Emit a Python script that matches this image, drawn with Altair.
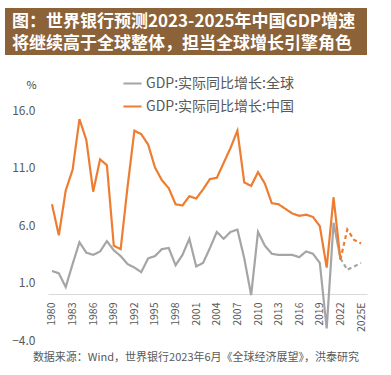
import altair as alt
import pandas as pd

years = list(range(1980, 2026))
world = [2.0, 1.8, 0.6, 2.6, 4.5, 3.6, 3.4, 3.7, 4.6, 3.8,
         3.3, 2.6, 2.3, 1.9, 3.1, 3.3, 3.9, 4.0, 2.5, 3.4,
         4.8, 2.4, 2.7, 4.0, 5.4, 4.8, 5.4, 5.6, 3.1, -0.1,
         5.4, 4.2, 3.5, 3.4, 3.4, 3.4, 3.2, 3.7, 3.5, 2.7,
         -3.0, 6.2, 3.1, 2.1, 2.4, 2.7]
china = [7.8, 5.1, 9.0, 10.8, 15.2, 13.4, 8.9, 11.7, 11.2, 4.2,
         3.9, 9.3, 14.2, 13.9, 13.0, 11.0, 9.9, 9.2, 7.8, 7.7,
         8.5, 8.3, 9.1, 10.0, 10.1, 11.4, 12.7, 14.2, 9.7, 9.4,
         10.6, 9.6, 7.9, 7.8, 7.4, 7.0, 6.8, 6.9, 6.7, 5.9,
         2.3, 8.4, 3.0, 5.6, 4.7, 4.4]
series_names = ["GDP:实际同比增长:全球", "GDP:实际同比增长:中国"]
series_colors = ["#A5A5A5", "#ED7D31"]
last_actual = 2022
y_ticks = [-4, 1, 6, 11, 16]
x_ticks = list(range(1980, 2026, 3))
title_lines = ["图：世界银行预测2023-2025年中国GDP增速", "将继续高于全球整体，担当全球增长引擎角色"]
source_text = "数据来源：Wind，世界银行2023年6月《全球经济展望》，洪泰研究"

FONT = "Noto Sans CJK SC"

rows = []
for name, vals in zip(series_names, [world, china]):
    for yr, v in zip(years, vals):
        if yr <= last_actual:
            rows.append({"year": yr, "value": v, "series": name, "seg": "实际"})
        if yr >= last_actual:
            rows.append({"year": yr, "value": v, "series": name, "seg": "预测"})
df = pd.DataFrame(rows)

W, H = 319, 230
zero_offset = -H * 4 / 20

lines = alt.Chart(df).mark_line(strokeWidth=2.2).encode(
    x=alt.X("year:Q",
            scale=alt.Scale(domain=[1979.42, 2025.87], nice=False, zero=False),
            axis=alt.Axis(values=x_ticks, labelAngle=-90, ticks=False, grid=False,
                          domainColor="#D9D9D9", domainWidth=1, offset=zero_offset,
                          labelFontSize=10.5, labelColor="#595959", labelFont=FONT,
                          labelPadding=8, title=None,
                          labelExpr="datum.value == 2025 ? '2025E' : toString(datum.value)")),
    y=alt.Y("value:Q",
            scale=alt.Scale(domain=[-4, 16], nice=False, zero=False),
            axis=alt.Axis(values=y_ticks, format=".1f", grid=False, domain=False, ticks=False,
                          labelFontSize=12, labelColor="#595959", labelFont=FONT, labelPadding=13,
                          title="%", titleAngle=0, titleX=-17, titleY=-20, titleFontSize=11,
                          titleFontWeight="normal", titleColor="#404040", titleFont=FONT,
                          titleAlign="center")),
    color=alt.Color("series:N",
                    scale=alt.Scale(domain=series_names, range=series_colors),
                    legend=alt.Legend(orient="none", legendX=74, legendY=-37, direction="vertical",
                                      title=None, symbolType="stroke", symbolStrokeWidth=2,
                                      symbolSize=330, labelFontSize=14, labelColor="#595959",
                                      labelFont=FONT, rowPadding=5, labelOffset=3)),
    strokeDash=alt.StrokeDash("seg:N",
                              scale=alt.Scale(domain=["实际", "预测"], range=[[1, 0], [4, 3]]),
                              legend=None),
)

banner = alt.Chart(pd.DataFrame({"a": [0]})).mark_rect(color="#8C6239").encode(
    x=alt.value(-43), x2=alt.value(319), y=alt.value(-102), y2=alt.value(-55))

title = alt.Chart(pd.DataFrame({"t": ["\n".join(title_lines)]})).mark_text(
    align="left", baseline="middle", font=FONT, fontSize=17, fontWeight="bold", color="white",
    lineBreak="\n", lineHeight=21.5
).encode(text="t:N", x=alt.value(-36), y=alt.value(-88))
source = alt.Chart(pd.DataFrame({"t": [source_text]})).mark_text(
    align="center", baseline="middle", font=FONT, fontSize=11, color="#595959"
).encode(text="t:N", x=alt.value(148), y=alt.value(248))

chart = alt.layer(banner, title, lines, source).properties(
    width=W, height=H,
    autosize=alt.AutoSizeParams(type="none"),
    padding={"left": 48, "top": 110, "right": 24, "bottom": 35},
    background="white",
).configure_view(stroke=None)

chart.save("out.html", embed_options={"renderer": "svg", "actions": False})
